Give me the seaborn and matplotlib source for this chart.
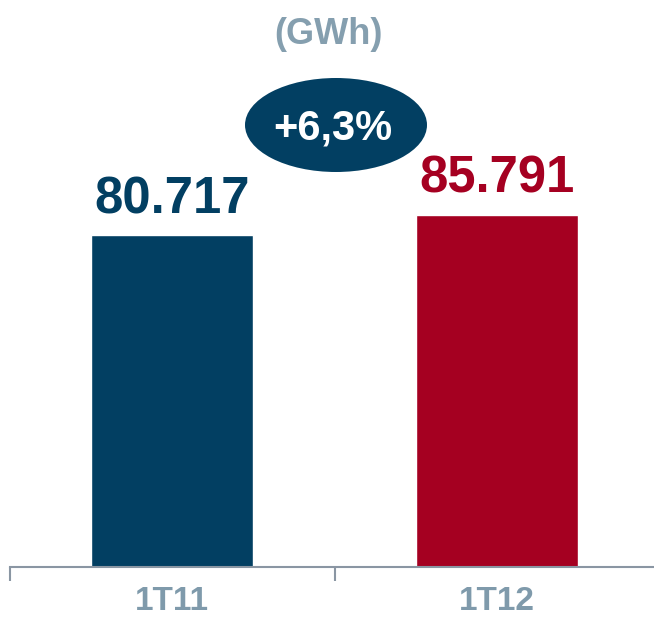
import matplotlib
matplotlib.use("Agg")
import matplotlib.pyplot as plt
from matplotlib.patches import Ellipse
import seaborn as sns
import pandas as pd

# Energy volumes per quarter (GWh)
periods = ["1T11", "1T12"]
values = [80717, 85791]
value_labels = ["80.717", "85.791"]
bar_colors = ["#023F62", "#A50021"]
growth_label = "+6,3%"
unit_label = "(GWh)"

sns.set_theme(style="white")
plt.rcParams["font.family"] = ["Liberation Sans", "DejaVu Sans"]

df = pd.DataFrame({"period": periods, "value": values})

fig = plt.figure(figsize=(6.54, 6.19), dpi=100)
W, H = 654, 619
ax = fig.add_axes([10 / W, 52 / H, 649 / W, 1 - 52 / H])

sns.barplot(data=df, x="period", y="value", hue="period",
            palette=dict(zip(periods, bar_colors)), width=0.5,
            saturation=1, legend=False, ax=ax)

ax.set_xlim(-0.5, 1.5)
ax.set_ylim(0, 138000)
ax.set_xlabel("")
ax.set_ylabel("")
ax.set_yticks([])

# Value labels above bars
for i, (v, lab, c) in enumerate(zip(values, value_labels, bar_colors)):
    ax.annotate(lab, (i, v), xytext=(0, 8), textcoords="offset points",
                ha="center", va="bottom", fontsize=36.5, fontweight="bold",
                color=c)

# Category ticks at boundaries, labels at centers
axis_grey = "#8A96A3"
ax.set_xticks([-0.5, 0.5, 1.5])
ax.set_xticklabels(["", "", ""])
ax.set_xticks([0, 1], minor=True)
ax.set_xticklabels(periods, minor=True)
ax.tick_params(axis="x", which="major", length=10, width=1.5,
               color=axis_grey, direction="out", bottom=True)
ax.tick_params(axis="x", which="minor", length=0, pad=14,
               labelsize=24, labelcolor="#7F9AAB")
for t in ax.get_xticklabels(minor=True):
    t.set_fontweight("bold")

for s in ["top", "right", "left"]:
    ax.spines[s].set_visible(False)
ax.spines["bottom"].set_color(axis_grey)
ax.spines["bottom"].set_linewidth(1.5)

# Unit title
fig.text(328 / W, 1 - 35 / H, unit_label, ha="center", va="center",
         fontsize=26, fontweight="bold", color="#859FAF")

# Growth badge
ell = Ellipse((336 / W, 1 - 125 / H), 182 / W, 94 / H,
              transform=fig.transFigure, facecolor="#023F62",
              edgecolor="none", zorder=5)
fig.patches.append(ell)
fig.text(333 / W, 1 - 128 / H, growth_label, ha="center", va="center",
         fontsize=30, fontweight="bold", color="white", zorder=6)

fig.savefig("out.png", dpi=100)
